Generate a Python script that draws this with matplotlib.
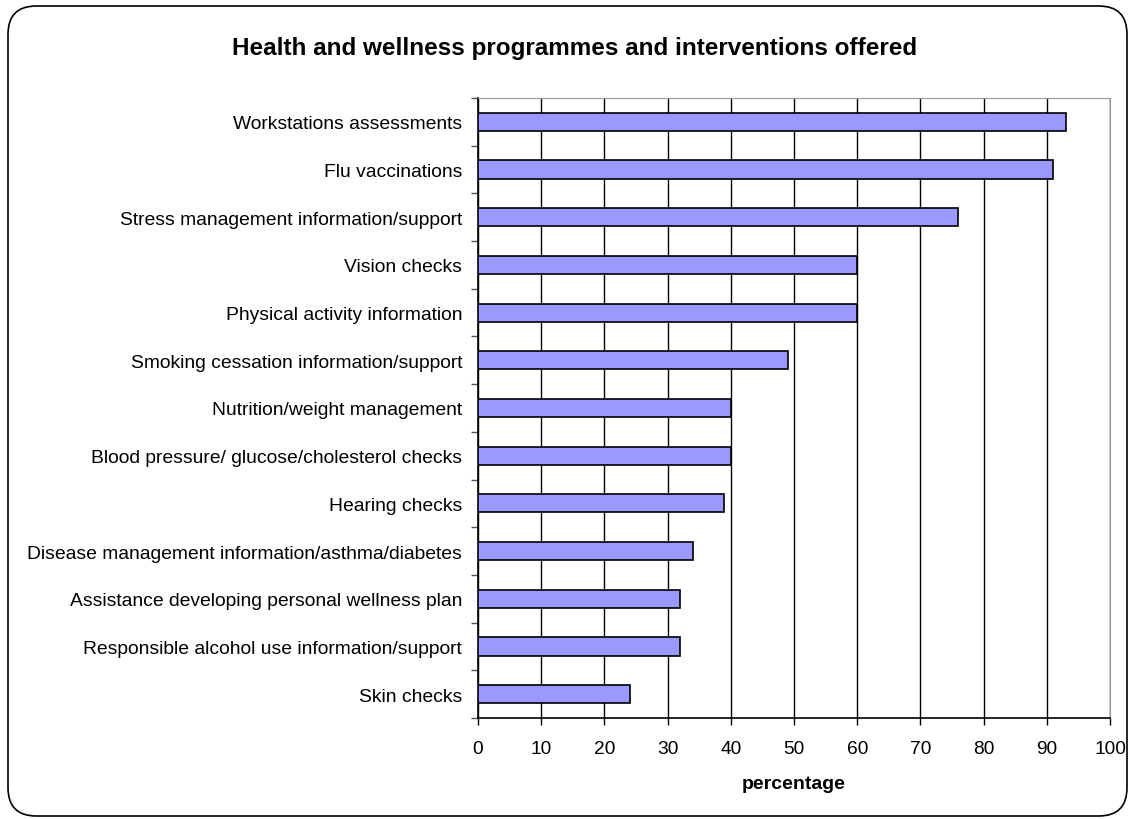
#!/usr/bin/env python3
"""Health and wellness programmes bar chart."""

import matplotlib
matplotlib.use("Agg")
import matplotlib.pyplot as plt
from matplotlib.patches import FancyBboxPatch

plt.rcParams["font.family"] = ["Liberation Sans", "DejaVu Sans"]

categories = [
    "Workstations assessments",
    "Flu vaccinations",
    "Stress management information/support",
    "Vision checks",
    "Physical activity information",
    "Smoking cessation information/support",
    "Nutrition/weight management",
    "Blood pressure/ glucose/cholesterol checks",
    "Hearing checks",
    "Disease management information/asthma/diabetes",
    "Assistance developing personal wellness plan",
    "Responsible alcohol use information/support",
    "Skin checks",
]
values = [93, 91, 76, 60, 60, 49, 40, 40, 39, 34, 32, 32, 24]
x_ticks = list(range(0, 101, 10))

fig = plt.figure(figsize=(11.32, 8.2), dpi=100)
ax = fig.add_axes([478 / 1132, 1 - 719 / 820, (1110 - 478) / 1132, (719 - 99) / 820])

pos = list(range(len(categories)))
ax.barh(pos, values, height=0.38, color="#9999FF", edgecolor="black", linewidth=1.2, zorder=3)
ax.set_ylim(len(categories) - 0.5, -0.5)
ax.set_xlim(0, 100)

ax.set_xticks(x_ticks)
ax.set_xticklabels([str(t) for t in x_ticks], fontsize=13.8)
ax.set_yticks([p - 0.5 for p in pos] + [len(categories) - 0.5])
ax.set_yticklabels([])
ax.set_yticks(pos, minor=True)
ax.set_yticklabels(categories, minor=True, fontsize=13.9)
ax.tick_params(axis="y", which="minor", length=0, pad=11.5)
ax.tick_params(axis="y", which="major", length=5, width=1, color="#555555")
ax.tick_params(axis="x", length=5, width=1, pad=11)

ax.grid(axis="x", color="black", linewidth=1, zorder=0)
ax.set_axisbelow(True)
for side in ("top", "right"):
    ax.spines[side].set_color("#999999")
for side in ("left", "bottom"):
    ax.spines[side].set_color("black")
    ax.spines[side].set_linewidth(1.2)

ax.set_xlabel("percentage", fontsize=14, fontweight="bold", labelpad=12.5)
fig.text(575 / 1132, 1 - 48 / 820, "Health and wellness programmes and interventions offered",
         ha="center", va="center", fontsize=17.5, fontweight="bold")

border = FancyBboxPatch((8 / 1132, 3 / 820), 1119 / 1132, 810 / 820,
                        boxstyle="round,pad=0,rounding_size=0.025",
                        transform=fig.transFigure, fill=False, edgecolor="black",
                        linewidth=1.2, mutation_aspect=1132 / 820)
fig.patches.append(border)

fig.savefig("out.png", dpi=100)
